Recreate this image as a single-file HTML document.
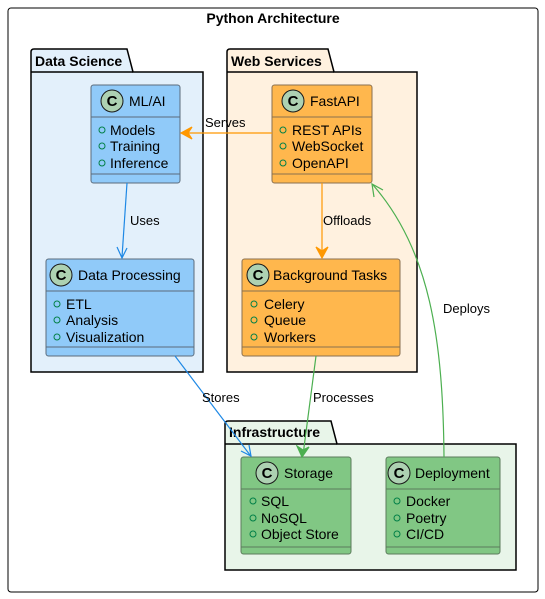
<!DOCTYPE html>
<html><head><meta charset="utf-8"><style>
html,body{margin:0;padding:0;background:#fff;}
svg{display:block;font-family:"Liberation Sans","DejaVu Sans",sans-serif;}
</style></head><body>
<svg width="545" height="599" viewBox="0 0 545 599" xmlns="http://www.w3.org/2000/svg">
<defs>
<g id="c"><circle r="11" fill="#ADD1B2" stroke="#181818" stroke-width="1"/><text x="0" y="5" font-size="15" font-weight="bold" text-anchor="middle" fill="#000">C</text></g>
</defs>
<rect x="8" y="8" width="530" height="584" rx="3" fill="#fff" stroke="#000" stroke-width="1"/>
<text x="273" y="23" font-size="14" font-weight="bold" text-anchor="middle">Python Architecture</text>

<!-- Data Science -->
<path d="M31,72 L31,52 Q31,49 34,49 L127,49 L133,72 L203,72 L203,372 L31,372 Z" fill="#E3F0FB" stroke="#000" stroke-width="1.5"/>
<line x1="31" y1="72" x2="133" y2="72" stroke="#000" stroke-width="1.5"/>
<text x="35" y="66" font-size="14" font-weight="bold">Data Science</text>
<!-- Web Services -->
<path d="M227,72 L227,52 Q227,49 230,49 L328,49 L334,72 L417,72 L417,372 L227,372 Z" fill="#FFF1DF" stroke="#000" stroke-width="1.5"/>
<line x1="227" y1="72" x2="334" y2="72" stroke="#000" stroke-width="1.5"/>
<text x="231" y="66" font-size="14" font-weight="bold">Web Services</text>
<!-- Infrastructure -->
<path d="M225,444 L225,424 Q225,421 228,421 L331,421 L337,444 L516,444 L516,570 L225,570 Z" fill="#E8F5E9" stroke="#000" stroke-width="1.5"/>
<line x1="225" y1="444" x2="337" y2="444" stroke="#000" stroke-width="1.5"/>
<text x="229" y="437" font-size="14" font-weight="bold">Infrastructure</text>

<g font-size="14" fill="#000">
<rect x="91" y="85" width="89" height="98" rx="2.5" fill="#90CAF9" stroke="#5B6B7B"/>
<line x1="91" y1="117" x2="180" y2="117" stroke="#5B6B7B"/><line x1="91" y1="174" x2="180" y2="174" stroke="#5B6B7B"/>
<use href="#c" x="112" y="101"/><text x="129" y="106">ML/AI</text>
<g fill="none" stroke="#038048"><circle cx="102" cy="130" r="3"/><circle cx="102" cy="146" r="3"/><circle cx="102" cy="163" r="3"/></g>
<text x="110" y="135">Models</text><text x="110" y="151">Training</text><text x="110" y="168">Inference</text>

<rect x="46" y="259" width="148" height="97" rx="2.5" fill="#90CAF9" stroke="#5B6B7B"/>
<line x1="46" y1="291" x2="194" y2="291" stroke="#5B6B7B"/><line x1="46" y1="347" x2="194" y2="347" stroke="#5B6B7B"/>
<use href="#c" x="61" y="275"/><text x="78" y="280">Data Processing</text>
<g fill="none" stroke="#038048"><circle cx="57" cy="304" r="3"/><circle cx="57" cy="320" r="3"/><circle cx="57" cy="337" r="3"/></g>
<text x="66" y="309">ETL</text><text x="66" y="325">Analysis</text><text x="66" y="342">Visualization</text>

<rect x="272" y="85" width="100" height="98" rx="2.5" fill="#FFB74D" stroke="#8A7050"/>
<line x1="272" y1="117" x2="372" y2="117" stroke="#8A7050"/><line x1="272" y1="174" x2="372" y2="174" stroke="#8A7050"/>
<use href="#c" x="293" y="101"/><text x="310" y="106">FastAPI</text>
<g fill="none" stroke="#038048"><circle cx="283" cy="130" r="3"/><circle cx="283" cy="146" r="3"/><circle cx="283" cy="163" r="3"/></g>
<text x="292" y="135">REST APIs</text><text x="292" y="151">WebSocket</text><text x="292" y="168">OpenAPI</text>

<rect x="242" y="259" width="158" height="97" rx="2.5" fill="#FFB74D" stroke="#8A7050"/>
<line x1="242" y1="291" x2="400" y2="291" stroke="#8A7050"/><line x1="242" y1="347" x2="400" y2="347" stroke="#8A7050"/>
<use href="#c" x="258" y="275"/><text x="273" y="280">Background Tasks</text>
<g fill="none" stroke="#038048"><circle cx="254" cy="304" r="3"/><circle cx="254" cy="320" r="3"/><circle cx="254" cy="337" r="3"/></g>
<text x="264" y="309">Celery</text><text x="264" y="325">Queue</text><text x="264" y="342">Workers</text>

<rect x="241" y="457" width="110" height="97" rx="2.5" fill="#81C784" stroke="#5B7B5B"/>
<line x1="241" y1="489" x2="351" y2="489" stroke="#5B7B5B"/><line x1="241" y1="547" x2="351" y2="547" stroke="#5B7B5B"/>
<use href="#c" x="267" y="473"/><text x="284" y="478">Storage</text>
<g fill="none" stroke="#038048"><circle cx="253" cy="501" r="3"/><circle cx="253" cy="518" r="3"/><circle cx="253" cy="534" r="3"/></g>
<text x="261" y="506">SQL</text><text x="261" y="523">NoSQL</text><text x="261" y="539">Object Store</text>

<rect x="386" y="457" width="114" height="97" rx="2.5" fill="#81C784" stroke="#5B7B5B"/>
<line x1="386" y1="489" x2="500" y2="489" stroke="#5B7B5B"/><line x1="386" y1="547" x2="500" y2="547" stroke="#5B7B5B"/>
<use href="#c" x="399" y="473"/><text x="415" y="478">Deployment</text>
<g fill="none" stroke="#038048"><circle cx="397" cy="501" r="3"/><circle cx="397" cy="518" r="3"/><circle cx="397" cy="534" r="3"/></g>
<text x="406" y="506">Docker</text><text x="406" y="523">Poetry</text><text x="406" y="539">CI/CD</text>
</g>

<g fill="none" stroke-width="1.2">
<line x1="272" y1="133" x2="182" y2="133" stroke="#FF9800"/>
<path d="M192,127 L181,133 L192,139 L188,133 Z" fill="#FF9800" stroke="#FF9800"/>
<line x1="127" y1="183" x2="122" y2="257" stroke="#1E88E5"/>
<path d="M117,247 L122,258 L127,248" stroke="#1E88E5"/>
<line x1="322" y1="183" x2="322" y2="257" stroke="#FF9800"/>
<path d="M316,247 L322,258 L328,247 L322,251 Z" fill="#FF9800" stroke="#FF9800"/>
<line x1="175" y1="356" x2="250" y2="455" stroke="#1E88E5"/>
<path d="M241,451 L251,456 L249,445" stroke="#1E88E5"/>
<line x1="316" y1="356" x2="303" y2="455" stroke="#4CAF50"/>
<path d="M297,446 L302,457 L309,447 L303,450 Z" fill="#4CAF50" stroke="#4CAF50"/>
<path d="M444,457 C443,340 430,250 373,185" stroke="#4CAF50"/>
<path d="M374,197 L372,184 L383,190" stroke="#4CAF50"/>
</g>
<g font-size="13" fill="#000">
<text x="205" y="127">Serves</text>
<text x="130" y="225">Uses</text>
<text x="323" y="225">Offloads</text>
<text x="202" y="402">Stores</text>
<text x="313" y="402">Processes</text>
<text x="443" y="313">Deploys</text>
</g>
</svg>
</body></html>
